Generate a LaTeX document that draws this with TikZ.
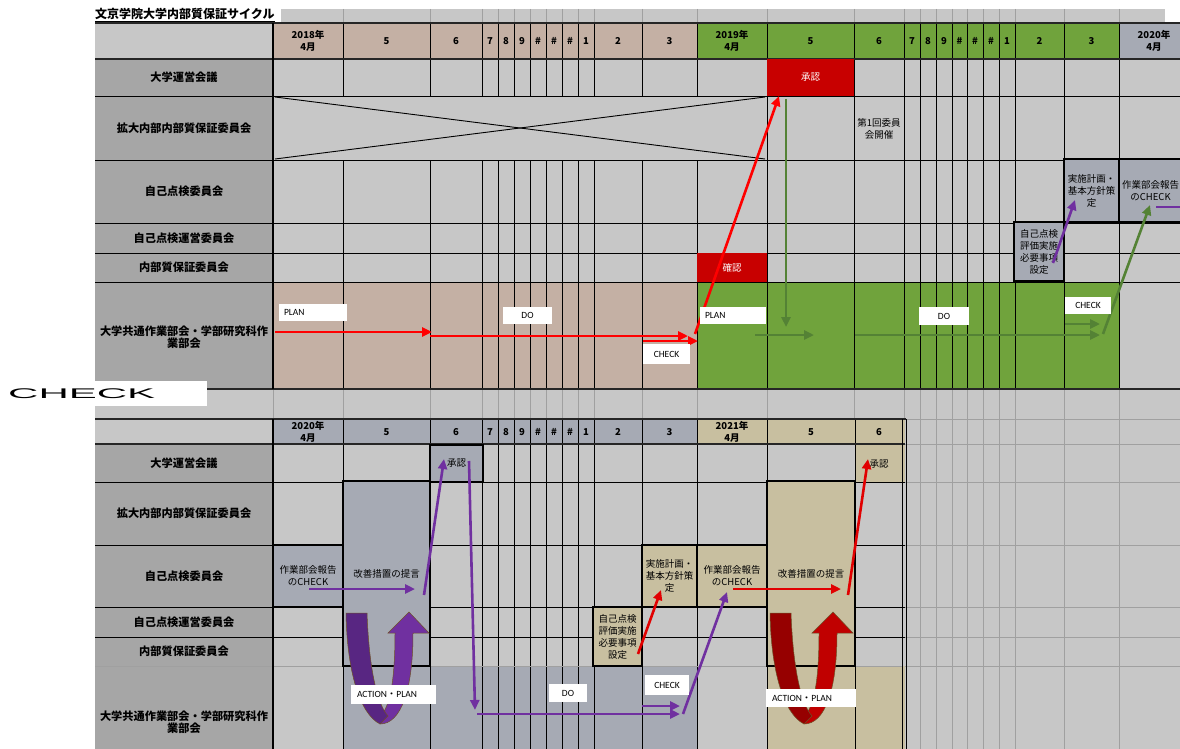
\documentclass[tikz,border=0pt]{standalone}
\usepackage{fontspec}
\usepackage{graphicx}
\setmainfont{Noto Sans CJK JP}
\newfontfamily\lat{Carlito}
\newfontfamily\jpf{Noto Sans CJK JP}
\newfontfamily\widef{Liberation Sans}
\usetikzlibrary{arrows.meta}
\definecolor{cellg}{RGB}{199,199,199}
\definecolor{labg}{RGB}{166,166,166}
\definecolor{tanA}{RGB}{196,176,164}
\definecolor{grnA}{RGB}{112,163,60}
\definecolor{gbA}{RGB}{166,170,180}
\definecolor{tanB}{RGB}{200,191,160}
\definecolor{boxred}{RGB}{200,0,0}
\definecolor{arrred}{RGB}{255,0,0}
\definecolor{arrredb}{RGB}{225,0,0}
\definecolor{arrgrn}{RGB}{84,130,53}
\definecolor{arrpur}{RGB}{112,48,160}
\definecolor{darkpur}{RGB}{88,38,130}
\definecolor{urd}{RGB}{192,0,0}
\definecolor{darkred}{RGB}{150,0,0}
\definecolor{lgline}{RGB}{160,160,160}
\definecolor{ubord}{RGB}{110,80,40}
\newcommand\uturnarrow[3]{%
\begin{scope}[xshift=#1pt]
\filldraw[fill=#3, draw=ubord, line width=0.5pt] (380,724) .. controls (401,724) and (413,690) .. (413,633) -- (429,633) -- (409,612) -- (388,633) -- (395,633) .. controls (395,680) and (390,708) .. (380,716) -- cycle;
\filldraw[fill=#2, draw=ubord, line width=0.5pt] (346,613) -- (367,613) .. controls (369,668) and (377,704) .. (388,716) -- (380,724) .. controls (360,714) and (347,672) .. (346,613) -- cycle;
\end{scope}}
\begin{document}
\begin{tikzpicture}[x=1pt,y=-1pt,
  hdr/.style={font=\bfseries\fontsize{9.5}{11.5}\selectfont, align=center, inner sep=0pt},
  lbl/.style={font=\bfseries\fontsize{11.2}{12.5}\selectfont, align=center, inner sep=0pt},
  bx/.style={draw=black, line width=2.4pt, inner sep=0pt, align=center, font=\fontsize{9.5}{12}\selectfont},
  redbox/.style={fill=boxred, inner sep=0pt, text=white, font=\fontsize{9.5}{10}\selectfont},
  wl/.style={fill=white, inner sep=0pt, font=\lat\fontsize{9.5}{10}\selectfont},
  grid/.style={line width=0.9pt, black},
  lgrid/.style={line width=0.8pt, lgline},
  bord/.style={line width=1.8pt, black!85},
  ar/.style={line width=2.6pt, -{Triangle[length=10pt,width=9pt]}},
]
\useasboundingbox (0,0) rectangle (1180,749);
\fill[white] (0,0) rectangle (1180,749);
% title strip
\fill[cellg] (281,9) rectangle (1165,23);
\foreach \x in {343,430,482,498,514,530,546,562,578,594,642,697,767,854,904,920,936,952,967,983,999,1015,1064,1119}
  \draw[lgrid] (\x,9) -- (\x,23);
\node[anchor=base west, font=\bfseries\fontsize{12}{13}\selectfont, inner sep=0pt] (title) at (95,19) {文京学院大学内部質保証サイクル};
\draw[line width=0.8pt] ([yshift=-2pt]title.base west) -- ([yshift=-2pt]title.base east);

% ===== top table fills
\fill[cellg] (95,23) rectangle (1180,389);
\fill[labg] (95,59) rectangle (273,389);
\fill[tanA] (273,23) rectangle (697,59);
\fill[grnA] (697,23) rectangle (1119,59);
\fill[gbA] (1119,23) rectangle (1180,59);
\fill[tanA] (273,282) rectangle (697,389);
\fill[grnA] (697,282) rectangle (1119,389);
% top grid
\foreach \x in {273,767,854,904,920,936,952,967,983,999,1015,1064,1119}
  \draw[grid] (\x,23) -- (\x,389);
\foreach \x in {343,430,482,498,514,530,546,562,578,594,642,697}
  {\draw[grid] (\x,23) -- (\x,96); \draw[grid] (\x,160) -- (\x,389);}
\foreach \y in {96,160,223,253,282}
  \draw[grid] (95,\y) -- (1180,\y);
\draw[bord] (95,23) -- (1180,23);
\draw[bord] (95,59) -- (1180,59);
\draw[bord] (95,389) -- (1180,389);
\draw[line width=1.4pt] (273,23) -- (273,389);
% cross in merged cell
\draw[line width=0.9pt] (275,97) -- (765,159);
\draw[line width=0.9pt] (275,159) -- (765,97);

% top headers
\foreach \a/\b/\t [count=\i] in {273/343/{2018年\\4月},343/430/5,430/482/6,482/498/7,498/514/8,514/530/9,530/546/\#,546/562/\#,562/578/\#,578/594/1,594/642/2,642/697/3,697/767/{2019年\\4月},767/854/5,854/904/6,904/920/7,920/936/8,936/952/9,952/967/\#,967/983/\#,983/999/\#,999/1015/1,1015/1064/2,1064/1119/3}
  \node[hdr] (ht\i) at ({(\a+\b)/2},41) {\t};
\node[hdr] (ht25) at (1154,41) {2020年\\4月};

% top row labels
\node[lbl] (la1) at (184,77.5) {大学運営会議};
\node[lbl] (la2) at (184,128) {拡大内部内部質保証委員会};
\node[lbl] (la3) at (184,191.5) {自己点検委員会};
\node[lbl] (la4) at (184,238) {自己点検運営委員会};
\node[lbl] (la5) at (184,267.5) {内部質保証委員会};
\node[lbl] (la6) at (184,337) {大学共通作業部会・学部研究科作\\業部会};

% top special cells
\node[redbox, minimum width=87pt, minimum height=37pt] (shonin1) at (810.5,77.5) {承認};
\node[redbox, minimum width=70pt, minimum height=29pt] (kakunin1) at (732,267.5) {確認};
\node[font=\fontsize{9.5}{12}\selectfont, align=center, inner sep=0pt] (dai1) at (879,129) {第1回委員\\会開催};
\node[bx, fill=gbA, minimum width=50pt, minimum height=59pt] (jiko1) at (1039,251.5) {自己点検\\評価実施\\必要事項\\設定};
\node[bx, fill=gbA, minimum width=55pt, minimum height=63pt] (jisshi1) at (1091.5,190.5) {実施計画・\\基本方針策\\定};
\node[bx, fill=gbA, minimum width=71pt, minimum height=63pt] (sagyo1) at (1154.5,190.5) {\hspace*{-8pt}作業部会報告\\\hspace*{-8pt}のCHECK};

% ===== strip between tables
\fill[cellg] (95,390) rectangle (1180,419);
\foreach \x in {273,343,430,482,498,514,530,546,562,578,594,642,697,767,854,904,920,936,952,967,983,999,1015,1064,1119}
  \draw[lgrid] (\x,390) -- (\x,419);

% ===== bottom table fills
\fill[cellg] (95,419) rectangle (1180,749);
\fill[labg] (95,444) rectangle (273,749);
\fill[gbA] (273,419) rectangle (697,444);
\fill[tanB] (697,419) rectangle (905,444);
\fill[gbA] (343,666) rectangle (697,749);
\fill[tanB] (767,666) rectangle (905,749);
\fill[tanB] (855,444) rectangle (905,482);
% right light grid
\foreach \x in {920,936,952,967,983,999,1015,1064,1119}
  \draw[lgrid] (\x,419) -- (\x,749);
\foreach \y in {419,444,482,545,607,637,666}
  \draw[lgrid] (905,\y) -- (1180,\y);
% bottom grid
\foreach \x in {343,430,482,498,514,530,546,562,578,594,642,697,767,855}
  \draw[grid] (\x,419) -- (\x,749);
\foreach \y in {482,545,607,637}
  \draw[grid] (95,\y) -- (905,\y);
\draw[lgrid] (95,666) -- (903,666);
\draw[bord] (95,419) -- (906,419);
\draw[bord] (95,444) -- (905,444);
\draw[line width=1.4pt] (273,419) -- (273,749);
\draw[line width=0.9pt] (902.5,419) -- (902.5,749);
\draw[line width=0.9pt] (906,419) -- (906,749);

% bottom headers
\foreach \a/\b/\t [count=\i] in {273/343/{2020年\\4月},343/430/5,430/482/6,482/498/7,498/514/8,514/530/9,530/546/\#,546/562/\#,562/578/\#,578/594/1,594/642/2,642/697/3,697/767/{2021年\\4月},767/855/5,855/903/6}
  \node[hdr] (hb\i) at ({(\a+\b)/2},432) {\t};

% bottom row labels
\node[lbl] (lb1) at (184,463) {大学運営会議};
\node[lbl] (lb2) at (184,513.5) {拡大内部内部質保証委員会};
\node[lbl] (lb3) at (184,576) {自己点検委員会};
\node[lbl] (lb4) at (184,622) {自己点検運営委員会};
\node[lbl] (lb5) at (184,651.5) {内部質保証委員会};
\node[lbl] (lb6) at (184,722) {大学共通作業部会・学部研究科作\\業部会};

% bottom boxes
\node[bx, fill=gbA, minimum width=53pt, minimum height=37pt] (shonin2) at (456.5,463.5) {承認};
\node[bx, fill=gbA, minimum width=87pt, minimum height=185pt] (kaizen2) at (386.5,573.5) {改善措置の提言};
\node[bx, fill=gbA, minimum width=70pt, minimum height=62pt] (sagyo2) at (308,576) {作業部会報告\\のCHECK};
\node[bx, fill=tanB, minimum width=49pt, minimum height=59pt] (jiko2) at (617.5,636.5) {自己点検\\評価実施\\必要事項\\設定};
\node[bx, fill=tanB, minimum width=55pt, minimum height=62pt] (jisshi2) at (669.5,576) {実施計画・\\基本方針策\\定};
\node[bx, fill=tanB, minimum width=70pt, minimum height=62pt] (sagyo3) at (732,576) {作業部会報告\\のCHECK};
\node[bx, fill=tanB, minimum width=88pt, minimum height=185pt] (kaizen3) at (811,573.5) {改善措置の提言};
\node[font=\fontsize{9.5}{10}\selectfont, inner sep=0pt] (shonin3) at (879,464) {承認};

% U-turn arrows
\uturnarrow{0}{darkpur}{arrpur}
\uturnarrow{424}{darkred}{urd}

% ===== coordinates for arrows
\coordinate (r1s) at (275,332); \coordinate (r1e) at (432,332);
\coordinate (r2s) at (430,336); \coordinate (r2e) at (688,336);
\coordinate (r3s) at (643,341); \coordinate (r3e) at (698,341);
\coordinate (r4s) at (695,334); \coordinate (r4e) at (779,96);
\coordinate (g1s) at (786,99); \coordinate (g1e) at (786,327);
\coordinate (g2s) at (755,335); \coordinate (g2e) at (814,335);
\coordinate (g3s) at (855,335); \coordinate (g3e) at (1100,335);
\coordinate (g4s) at (1065,324); \coordinate (g4e) at (1100,324);
\coordinate (g5s) at (1103,334); \coordinate (g5e) at (1150,205);
\coordinate (p1s) at (1053,263); \coordinate (p1e) at (1075,200);
\coordinate (p2s) at (1156,207); \coordinate (p2e) at (1192,207);
\coordinate (q1s) at (309,589); \coordinate (q1e) at (415,589);
\coordinate (q2s) at (424,595); \coordinate (q2e) at (444,459);
\coordinate (q3s) at (469,461); \coordinate (q3e) at (475,710);
\coordinate (q4s) at (477,714); \coordinate (q4e) at (680,714);
\coordinate (q5s) at (642,706); \coordinate (q5e) at (680,706);
\coordinate (q6s) at (683,714); \coordinate (q6e) at (727,592);
\coordinate (s1s) at (638,654); \coordinate (s1e) at (661,590);
\coordinate (s2s) at (733,589); \coordinate (s2e) at (841,589);
\coordinate (s3s) at (848,595); \coordinate (s3e) at (868,459);

% red arrows (top)
\draw[ar, arrred] (r1s) -- (r1e);
\draw[ar, arrred] (r2s) -- (r2e);
\draw[ar, arrred] (r3s) -- (r3e);
\draw[ar, arrred] (r4s) -- (r4e);
% green arrows
\draw[ar, arrgrn] (g1s) -- (g1e);
\draw[ar, arrgrn] (g2s) -- (g2e);
\draw[ar, arrgrn] (g3s) -- (g3e);
\draw[ar, arrgrn] (g4s) -- (g4e);
\draw[ar, arrgrn] (g5s) -- (g5e);
% purple (top)
\draw[ar, arrpur] (p1s) -- (p1e);
\draw[ar, arrpur] (p2s) -- (p2e);
% bottom purple
\draw[ar, arrpur] (q1s) -- (q1e);
\draw[ar, arrpur] (q2s) -- (q2e);
\draw[ar, arrpur] (q3s) -- (q3e);
\draw[ar, arrpur] (q4s) -- (q4e);
\draw[ar, arrpur] (q5s) -- (q5e);
\draw[ar, arrpur] (q6s) -- (q6e);
% bottom red
\draw[ar, arrredb] (s1s) -- (s1e);
\draw[ar, arrredb] (s2s) -- (s2e);
\draw[ar, arrredb] (s3s) -- (s3e);

% white labels
\node[wl, minimum width=68pt, minimum height=17pt] (plan1) at (313,312.5) {\makebox[58pt][l]{PLAN}};
\node[wl, minimum width=49pt, minimum height=17pt] (do1) at (527.5,315.5) {DO};
\node[wl, minimum width=47pt, minimum height=20pt] (check1) at (666.5,354) {CHECK};
\node[wl, minimum width=66pt, minimum height=17pt] (plan2) at (733,315.5) {\makebox[56pt][l]{PLAN}};
\node[wl, minimum width=50pt, minimum height=18pt] (do2) at (944,316) {DO};
\node[wl, minimum width=46pt, minimum height=17pt] (check2) at (1088,305.5) {CHECK};
\node[wl, minimum width=85pt, minimum height=19pt] (ap1) at (393.5,694.5) {\makebox[73pt][l]{ACTION{\jpf ・}PLAN}};
\node[wl, minimum width=38pt, minimum height=18pt] (do3) at (568,693) {DO};
\node[wl, minimum width=44pt, minimum height=20pt] (check3) at (667,685) {CHECK};
\node[wl, minimum width=90pt, minimum height=18pt] (ap2) at (811,698) {\makebox[78pt][l]{ACTION{\jpf ・}PLAN}};

% big CHECK label at left
\node[fill=white, anchor=north west, minimum width=207pt, minimum height=25pt, inner sep=0pt] (bigcheck) at (0,381) {\makebox[207pt][l]{\hspace{8pt}\scalebox{3.0}[1]{\widef\fontsize{14}{15}\selectfont CHECK}}};
\end{tikzpicture}
\end{document}
